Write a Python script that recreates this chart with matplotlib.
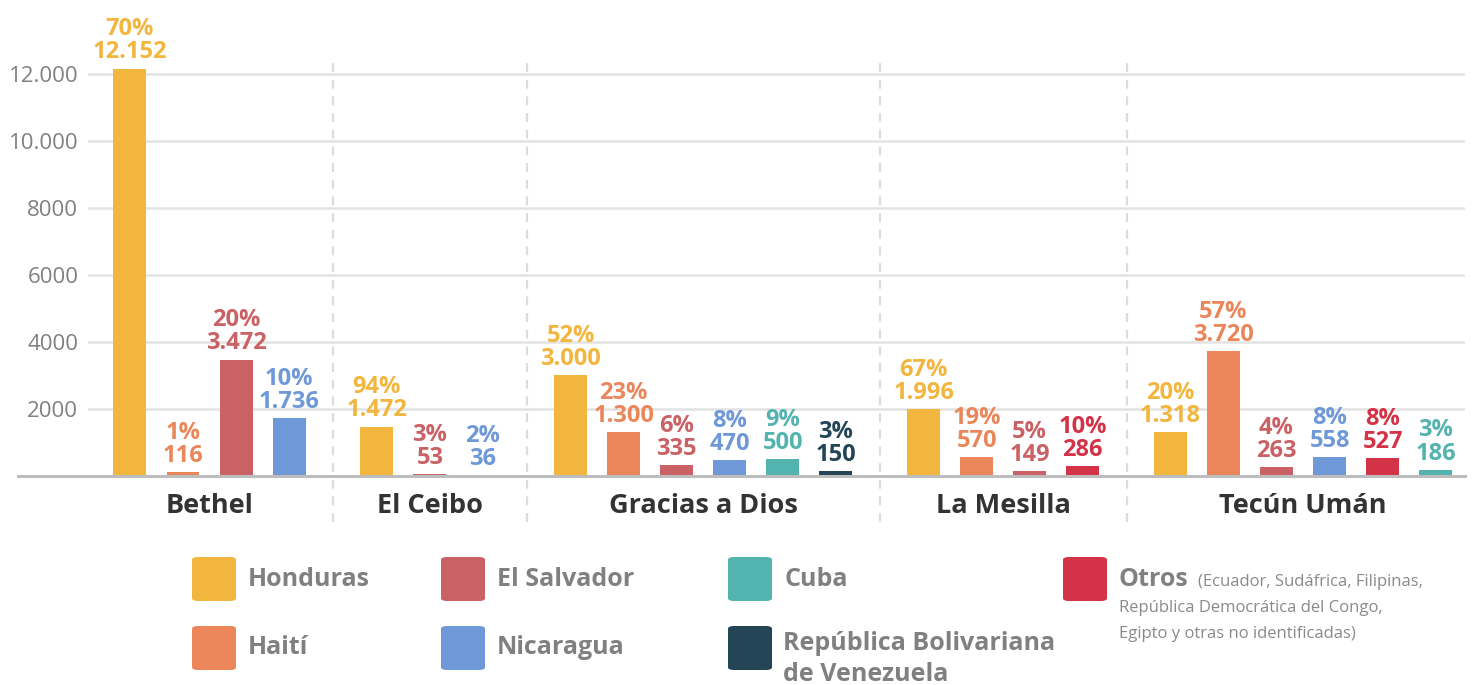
import matplotlib
matplotlib.use('Agg')
import matplotlib.pyplot as plt
from matplotlib.patches import FancyBboxPatch

# ---- data ----
crossings = ['Bethel', 'El Ceibo', 'Gracias a Dios', 'La Mesilla', 'Tecún Umán']
countries = {
    'Bethel': ['Honduras', 'Haití', 'El Salvador', 'Nicaragua'],
    'El Ceibo': ['Honduras', 'El Salvador', 'Nicaragua'],
    'Gracias a Dios': ['Honduras', 'Haití', 'El Salvador', 'Nicaragua', 'Cuba', 'Venezuela'],
    'La Mesilla': ['Honduras', 'Haití', 'El Salvador', 'Otros'],
    'Tecún Umán': ['Honduras', 'Haití', 'El Salvador', 'Nicaragua', 'Otros', 'Cuba'],
}
values = {
    'Bethel': [12152, 116, 3472, 1736],
    'El Ceibo': [1472, 53, 36],
    'Gracias a Dios': [3000, 1300, 335, 470, 500, 150],
    'La Mesilla': [1996, 570, 149, 286],
    'Tecún Umán': [1318, 3720, 263, 558, 527, 186],
}
shares = {
    'Bethel': [70, 1, 20, 10],
    'El Ceibo': [94, 3, 2],
    'Gracias a Dios': [52, 23, 6, 8, 9, 3],
    'La Mesilla': [67, 19, 5, 10],
    'Tecún Umán': [20, 57, 4, 8, 8, 3],
}
ytick_vals = [2000, 4000, 6000, 8000, 10000, 12000]
ytick_labels = ['2000', '4000', '6000', '8000', '10.000', '12.000']

colors = {
    'Honduras': '#F2B53D',
    'Haití': '#EA8659',
    'El Salvador': '#C96165',
    'Nicaragua': '#6E98D8',
    'Cuba': '#52B3AF',
    'Venezuela': '#234556',
    'Otros': '#D43246',
}


def fmt(v):
    return '{:,}'.format(v).replace(',', '.')


W, H = 1473, 685
fig = plt.figure(figsize=(W / 100, H / 100), dpi=100)
ax = fig.add_axes([88 / W, 1 - 476 / H, (1465 - 88) / W, 476 / H])

BOLD = dict(family='Open Sans', weight='bold')
gap = 1.65
bar_w = 0.62

x = 0.0
centers = []
seps = []
for gi, name in enumerate(crossings):
    if gi > 0:
        seps.append(x - 1 + gap / 2)
        x = x - 1 + gap
    start = x
    for c, v, s in zip(countries[name], values[name], shares[name]):
        ax.bar(x, v, width=bar_w, color=colors[c], zorder=3)
        ax.annotate('{}%\n{}'.format(s, fmt(v)), (x, v), xytext=(0, 3),
                    textcoords='offset points', ha='center', va='bottom',
                    color=colors[c], fontsize=17, linespacing=0.95,
                    annotation_clip=False, **BOLD)
        x += 1
    centers.append((start + x - 1) / 2)

ax.set_xlim(-0.79, x - 1 + 0.55)
ax.set_ylim(0, 14200)

for s in seps:
    ax.axvline(s, ymin=-0.097, ymax=0.874, color='#dcdcdc', lw=1.6,
               dashes=(4, 3.5), clip_on=False, zorder=1)

for yv in ytick_vals:
    ax.axhline(yv, color='#e3e3e3', lw=1.8, zorder=1)
ax.axhline(0, xmin=-0.051, xmax=1, color='#bdbdbd', lw=2.2, clip_on=False, zorder=4)

ax.set_yticks(ytick_vals)
ax.set_yticklabels(ytick_labels, family='Open Sans', fontsize=16, color='#808080')
ax.tick_params(axis='y', length=0, pad=7)
ax.set_xticks([])
for sp in ax.spines.values():
    sp.set_visible(False)

for cx, name in zip(centers, crossings):
    ax.text(cx, -500, name, ha='center', va='top', fontsize=19.5,
            color='#333333', **BOLD)

# ---- legend ----
def px(xp, yp):
    return xp / W, 1 - yp / H


legend_items = [
    ('Honduras', 'Honduras', 192, 579),
    ('El Salvador', 'El Salvador', 441, 579),
    ('Cuba', 'Cuba', 728, 579),
    ('Otros', 'Otros', 1063, 579),
    ('Haití', 'Haití', 192, 648),
    ('Nicaragua', 'Nicaragua', 441, 648),
    ('Venezuela', 'República Bolivariana\nde Venezuela', 728, 648),
]
sq = 44
for key, label, lx, ly in legend_items:
    x0, y0 = px(lx, ly + sq / 2)
    fig.patches.append(FancyBboxPatch(
        (x0, y0), sq / W, sq / H, boxstyle='round,pad=0,rounding_size=0.004',
        transform=fig.transFigure, facecolor=colors[key], edgecolor='none'))
    tx, ty = px(lx + sq + 12, ly)
    if key == 'Venezuela':
        tx, ty = px(lx + sq + 11, ly + 11)
    fig.text(tx, ty, label, ha='left', va='center', fontsize=18,
             color='#808080', linespacing=1.3, **BOLD)

note_color = '#8a8a8a'
ox, oy = px(1198, 582)
fig.text(ox, oy, '(Ecuador, Sudáfrica, Filipinas,', ha='left', va='center',
         fontsize=12, color=note_color, family='Open Sans')
ox, oy = px(1119, 608)
fig.text(ox, oy, 'República Democrática del Congo,', ha='left', va='center',
         fontsize=12, color=note_color, family='Open Sans')
ox, oy = px(1119, 634)
fig.text(ox, oy, 'Egipto y otras no identificadas)', ha='left', va='center',
         fontsize=12, color=note_color, family='Open Sans')

fig.savefig('out.png', dpi=100)
